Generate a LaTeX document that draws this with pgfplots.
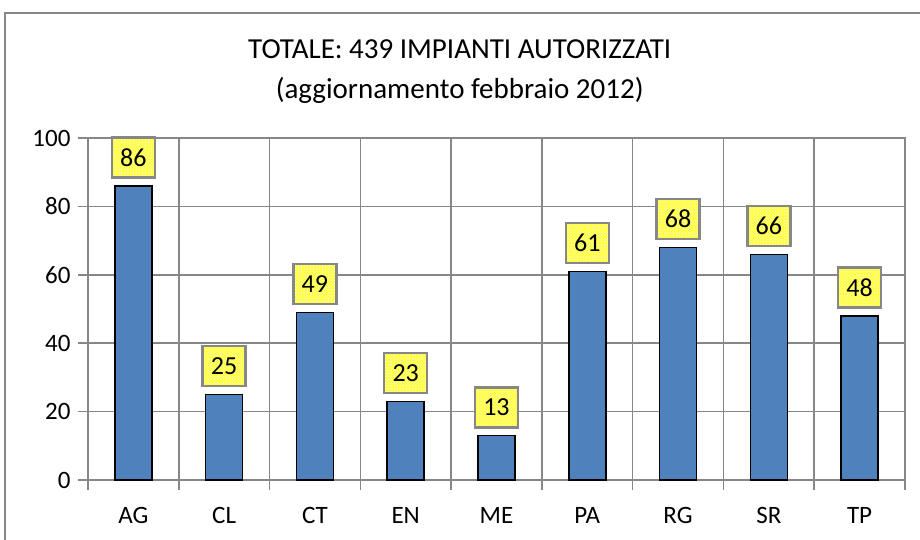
\documentclass[border=0pt]{standalone}
\usepackage{fontspec}
\setmainfont{Carlito}
\usepackage{pgfplots}
\pgfplotsset{compat=1.18}
\usetikzlibrary{patterns}
\definecolor{barblue}{HTML}{4F81BD}
\definecolor{gridgray}{HTML}{878787}
\definecolor{lblyellow}{HTML}{FFFF40}

\begin{document}
\begin{tikzpicture}
\begin{axis}[
    scale only axis,
    width=817pt,
    height=342pt,
    ybar,
    bar width=37pt,
    clip=false,
    xmin=-0.5, xmax=8.5,
    ymin=0, ymax=100,
    xtick={-0.5,0.5,...,8.5},
    xticklabels={},
    extra x ticks={0,1,...,8},
    extra x tick labels={AG,CL,CT,EN,ME,PA,RG,SR,TP},
    extra x tick style={major tick length=0pt, grid=none},
    ytick={0,20,...,100},
    xtick pos=bottom, ytick pos=left,
    xmajorgrids, ymajorgrids,
    grid style={gridgray, line width=1.5pt},
    axis line style={gridgray, line width=1.5pt},
    tick style={gridgray, line width=1.5pt},
    tick align=outside,
    major tick length=10pt,
    ticklabel style={font=\fontsize{25}{25}\selectfont},
    yticklabel style={xshift=-4pt},
    xticklabel style={yshift=-24pt},
    /pgf/number format/assume math mode=true,
    nodes near coords,
    nodes near coords style={font=\fontsize{26}{26}\selectfont, text=black,
        draw=gridgray, line width=2.5pt, fill=lblyellow,
        postaction={pattern=crosshatch dots, pattern color=white},
        minimum width=43pt, minimum height=40pt, inner sep=2pt,
        anchor=south, yshift=7pt},
]
\addplot[fill=barblue, draw=black, line width=1.5pt] coordinates {
    (0,86) (1,25) (2,49) (3,23) (4,13) (5,61) (6,68) (7,66) (8,48)
};
\node[align=center, font=\fontsize{29}{40}\selectfont, text=black]
    at (rel axis cs:0.455,1.193)
    {TOTALE: 439 IMPIANTI AUTORIZZATI\\(aggiornamento febbraio 2012)};
\draw[gridgray, line width=2pt] (rel axis cs:-0.1016,-0.2) -- (rel axis cs:-0.1016,1.3655) -- (rel axis cs:1.03,1.3655);
\coordinate (bl) at (rel axis cs:-0.1077,-0.1754);
\coordinate (tr) at (rel axis cs:1.0184,1.4035);
\end{axis}
\pgfresetboundingbox
\useasboundingbox (bl) rectangle (tr);
\end{tikzpicture}
\end{document}
